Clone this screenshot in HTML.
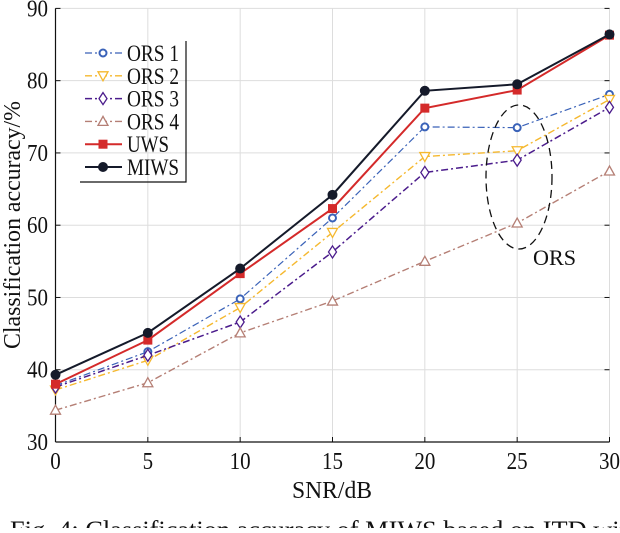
<!DOCTYPE html>
<html><head><meta charset="utf-8"><style>
body{margin:0;background:#fff;overflow:hidden;}
svg text{font-family:"Liberation Serif",serif;fill:#111;}
</style></head><body>
<svg width="620" height="528" viewBox="0 0 620 528" id="chart">
<g id="grid"></g><g id="axes"></g><g id="series"></g><g id="legend"></g>
<ellipse cx="519" cy="177" rx="33" ry="72" fill="none" stroke="#111" stroke-width="1.3" stroke-dasharray="8,5"/>
<text x="533" y="265" font-size="22" textLength="43" lengthAdjust="spacingAndGlyphs">ORS</text>
<text x="332" y="498" font-size="24" text-anchor="middle" textLength="80" lengthAdjust="spacingAndGlyphs">SNR/dB</text>
<text transform="translate(20,225) rotate(-90)" font-size="24" text-anchor="middle" textLength="248" lengthAdjust="spacingAndGlyphs">Classification accuracy/%</text>
<text x="10" y="538" font-size="25" textLength="630" lengthAdjust="spacingAndGlyphs">Fig. 4: Classification accuracy of MIWS based on ITD with</text>
</svg>
<script>
const xCats=[0,5,10,15,20,25,30];
const yTicks=[30,40,50,60,70,80,90];
const seriesNames=["ORS 1","ORS 2","ORS 3","ORS 4","UWS","MIWS"];
const ors1=[37.8,42.5,49.8,61.0,73.6,73.5,78.1];
const ors2=[37.2,41.3,48.6,59.0,69.5,70.3,77.4];
const ors3=[37.6,42.0,46.6,56.3,67.3,69.0,76.3];
const ors4=[34.4,38.2,45.1,49.5,55.0,60.3,67.5];
const uws=[38.0,44.1,53.3,62.3,76.2,78.7,86.3];
const miws=[39.3,45.1,54.0,64.2,78.6,79.5,86.4];
const L=55.5,R=609.5,T=8.4,B=442;
const X=v=>L+(v-0)/(30-0)*(R-L);
const Y=v=>B-(v-30)/(90-30)*(B-T);
const NS="http://www.w3.org/2000/svg";
function mk(tag,attrs,parent){const e=document.createElementNS(NS,tag);for(const k in attrs)e.setAttribute(k,attrs[k]);parent.appendChild(e);return e;}
const grid=document.getElementById('grid'),axes=document.getElementById('axes'),ser=document.getElementById('series'),leg=document.getElementById('legend');
xCats.forEach(c=>{const l=mk('line',{x1:X(c),x2:X(c),y1:T,y2:B,stroke:'#ddd','stroke-width':1},grid);

const t=mk('line',{x1:X(c),x2:X(c),y1:B,y2:B-5,stroke:'#111'},axes);

const s=String(c);
const tx=mk('text',{x:X(c),y:469,'font-size':24,'text-anchor':'middle',textLength:s.length*10.5,lengthAdjust:'spacingAndGlyphs'},axes);tx.textContent=s;
});
yTicks.forEach(v=>{const l=mk('line',{x1:L,x2:R,y1:Y(v),y2:Y(v),stroke:'#ddd','stroke-width':1},grid);

const t=mk('line',{x1:L,x2:L+5,y1:Y(v),y2:Y(v),stroke:'#111'},axes);

const t2=mk('line',{x1:R,x2:R-5,y1:Y(v),y2:Y(v),stroke:'#111'},axes);

const tx=mk('text',{x:48,y:Y(v)+8,'font-size':24,'text-anchor':'end',textLength:21,lengthAdjust:'spacingAndGlyphs'},axes);tx.textContent=v;
});
const ax=mk('path',{d:`M${L},${T}V${B}`,stroke:'#111','stroke-width':1.2,fill:'none'},axes);

const ax2=mk('path',{d:`M${L},${B}H${R}`,stroke:'#111','stroke-width':1.2,fill:'none'},axes);

const styles=[
{d:ors1,c:'#3a62b8',dash:'7,3,2,3',m:'hex',w:1.2},
{d:ors2,c:'#f5b82e',dash:'7,3,2,3',m:'tri-down',w:1.4},
{d:ors3,c:'#4b1c8c',dash:'7,3,2,3',m:'diamond',w:1.5},
{d:ors4,c:'#b57f75',dash:'7,3,2,3',m:'tri-up',w:1.4},
{d:uws,c:'#d42a2a',dash:'',m:'square',w:2},
{d:miws,c:'#151a2a',dash:'',m:'circle',w:2}];
function marker(m,x,y,c,p){let e;
if(m==='hex')e=mk('circle',{cx:x,cy:y,r:3.5,fill:'#fff',stroke:c,'stroke-width':2},p);
else if(m==='tri-down')e=mk('path',{d:`M${x-5},${y-4}L${x+5},${y-4}L${x},${y+5}Z`,fill:'#fff',stroke:c,'stroke-width':1.3},p);
else if(m==='tri-up')e=mk('path',{d:`M${x-5},${y+4}L${x+5},${y+4}L${x},${y-5}Z`,fill:'#fff',stroke:c,'stroke-width':1.3},p);
else if(m==='diamond')e=mk('path',{d:`M${x},${y-6}L${x+4},${y}L${x},${y+6}L${x-4},${y}Z`,fill:'#fff',stroke:c,'stroke-width':1.3},p);
else if(m==='square')e=mk('rect',{x:x-4.5,y:y-4.5,width:9,height:9,fill:c},p);
else e=mk('circle',{cx:x,cy:y,r:5,fill:c},p);
return e;}
styles.forEach((s,i)=>{const pts=s.d.map((v,j)=>X(xCats[j])+','+Y(v)).join(' ');
const pl=mk('polyline',{points:pts,fill:'none',stroke:s.c,'stroke-width':s.w,'stroke-dasharray':s.dash},ser);

s.d.forEach((v,j)=>{const mm=marker(s.m,X(xCats[j]),Y(v),s.c,ser);
});
const ly=53+i*22.8;
const ll=mk('line',{x1:85,x2:122,y1:ly,y2:ly,stroke:s.c,'stroke-width':s.w,'stroke-dasharray':s.dash},leg);

const lm=marker(s.m,103,ly,s.c,leg);
const tl=seriesNames[i]==='MIWS'?52:(seriesNames[i]==='UWS'?42:52);
const lt=mk('text',{x:127,y:ly+8,'font-size':23,textLength:tl,lengthAdjust:'spacingAndGlyphs'},leg);lt.textContent=seriesNames[i];
});
const lb=mk('path',{d:'M80,182H186V41',fill:'none',stroke:'#111','stroke-width':1.2},leg);

</script>
</body></html>
